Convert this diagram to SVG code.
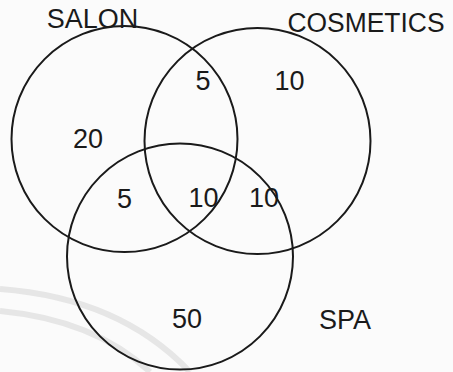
<svg xmlns="http://www.w3.org/2000/svg" width="453" height="372" viewBox="0 0 453 372">
<style>
.c{fill:none;stroke:#1a1a1a;stroke-width:2}
.t{font-family:"Liberation Sans",Arial,sans-serif;font-size:27px;fill:#1a1a1a;text-anchor:middle}
.w{fill:none;stroke:#e6e6e6;stroke-width:6}
</style>
<rect width="453" height="372" fill="#fbfbfb"/>
<g id="watermark">
<path class="w" d="M0,289 Q120,298 190,372"/>
<path class="w" d="M0,311 Q95,320 150,372"/>
</g>
<g id="connectors"></g>
<g id="salon">
<circle class="c" cx="124.5" cy="139" r="113"/>
<text class="t" x="92.5" y="28">SALON</text>
</g>
<g id="cosmetics">
<circle class="c" cx="257.5" cy="141" r="113"/>
<text class="t" x="366" y="32" textLength="157" lengthAdjust="spacingAndGlyphs">COSMETICS</text>
</g>
<g id="spa">
<circle class="c" cx="180" cy="256.5" r="113"/>
<text class="t" x="345" y="329">SPA</text>
</g>
<g id="counts">
<text class="t" x="203" y="90">5</text>
<text class="t" x="289.5" y="90">10</text>
<text class="t" x="88" y="148">20</text>
<text class="t" x="124.5" y="208">5</text>
<text class="t" x="203.5" y="207">10</text>
<text class="t" x="264" y="207">10</text>
<text class="t" x="187" y="328">50</text>
</g>
</svg>
